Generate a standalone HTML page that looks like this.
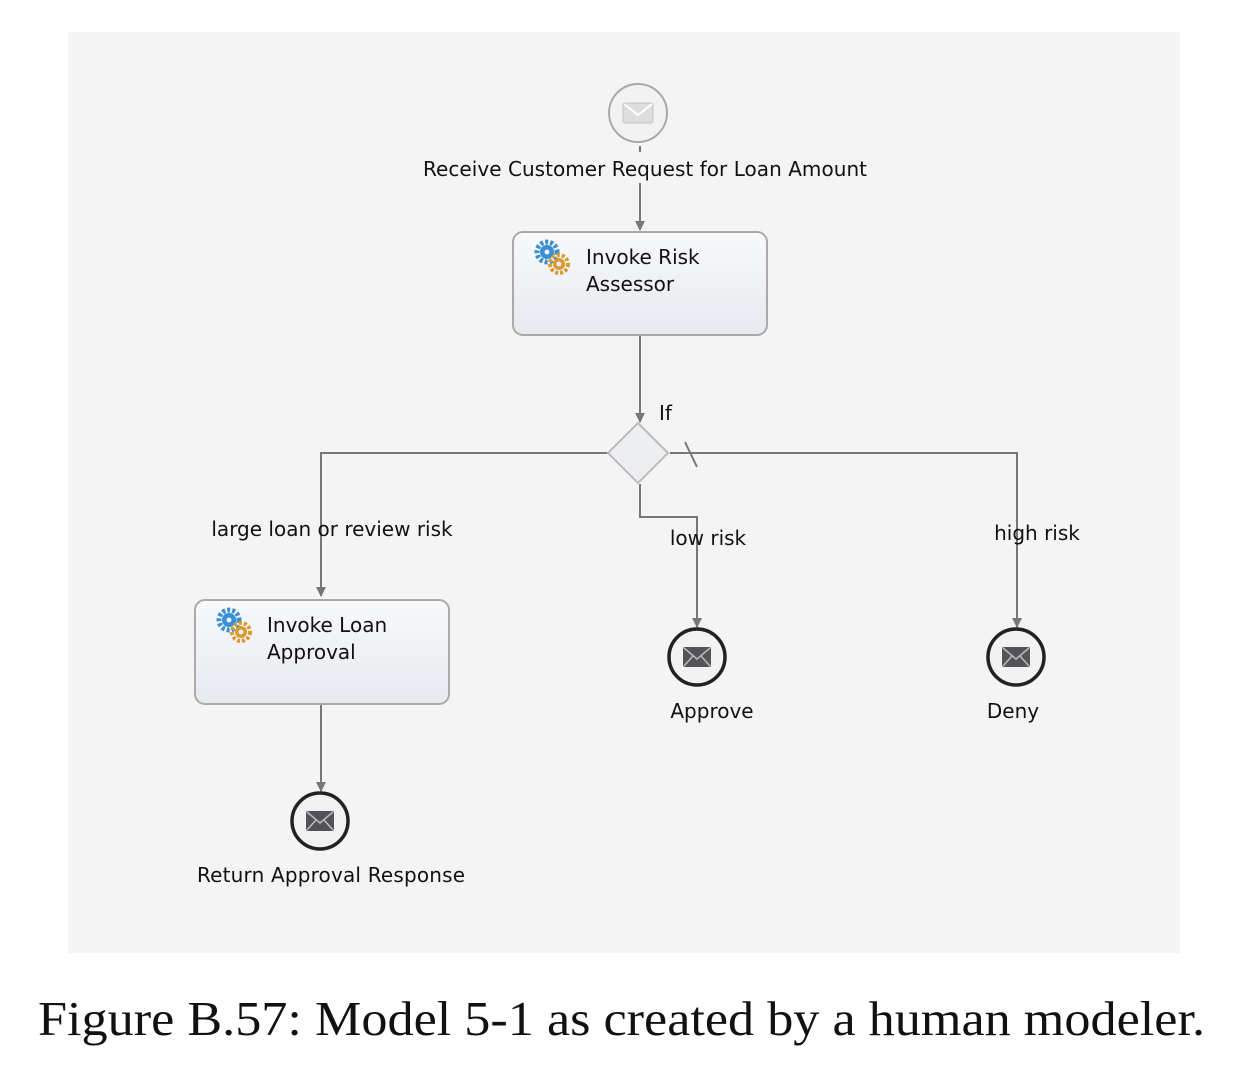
<!DOCTYPE html>
<html><head><style>body{margin:0;background:#fff}svg{display:block}</style></head><body>
<svg width="1240" height="1074" xmlns="http://www.w3.org/2000/svg">
<defs>
<marker id="a" markerWidth="10" markerHeight="10" refX="9" refY="5" orient="auto" markerUnits="userSpaceOnUse"><path d="M0,0 L10,5 L0,10z" fill="#777"/></marker>
<linearGradient id="tg" x1="0" y1="0" x2="0" y2="1"><stop offset="0" stop-color="#f8f9fb"/><stop offset="1" stop-color="#e6e9ee"/></linearGradient>
<g id="env"><rect x="-14" y="-10" width="28" height="20" rx="2" fill="#55535a"/><path d="M-13,-9 L0,2 L13,-9 M-13,9 L-4,-1 M13,9 L4,-1" stroke="#bbb" stroke-width="1.5" fill="none"/></g>
<g id="gear"><circle cx="-5" cy="-6" r="10" fill="none" stroke="#3a8fd0" stroke-width="5" stroke-dasharray="3 2"/><circle cx="-5" cy="-6" r="7" fill="#3a8fd0"/><circle cx="-5" cy="-6" r="2.5" fill="#eef"/><circle cx="7" cy="6" r="9" fill="none" stroke="#d99a2a" stroke-width="4" stroke-dasharray="3 2"/><circle cx="7" cy="6" r="6" fill="#d99a2a"/><circle cx="7" cy="6" r="2.5" fill="#eef"/></g>
</defs>
<rect x="68" y="32" width="1112" height="921" fill="#f4f4f4"/>
<g font-family="'DejaVu Sans','Liberation Sans',sans-serif" font-size="20" fill="#111">
<circle cx="638" cy="113" r="29" fill="#f2f2f2" stroke="#aaa" stroke-width="2"/>
<g transform="translate(638,113)"><rect x="-15" y="-10" width="30" height="20" rx="2" fill="#ddd" stroke="#c4c4c4"/><path d="M-14,-9 L0,2 L14,-9" stroke="#fff" stroke-width="2" fill="none"/></g>
<text x="645" y="176" text-anchor="middle" textLength="444">Receive Customer Request for Loan Amount</text>
<g stroke="#777" stroke-width="2" fill="none">
<line x1="640" y1="146" x2="640" y2="152"/>
<line x1="640" y1="183" x2="640" y2="230" marker-end="url(#a)"/>
<line x1="640" y1="336" x2="640" y2="422" marker-end="url(#a)"/>
<polyline points="608,453 321,453 321,596" marker-end="url(#a)"/>
<polyline points="670,453 1017,453 1017,627" marker-end="url(#a)"/>
<line x1="685" y1="442" x2="697" y2="467"/>
<polyline points="640,484 640,517 697,517 697,627" marker-end="url(#a)"/>
<line x1="321" y1="705" x2="321" y2="791" marker-end="url(#a)"/>
</g>
<rect x="513" y="232" width="254" height="103" rx="10" fill="url(#tg)" stroke="#aaa" stroke-width="2"/>
<use href="#gear" x="552" y="258"/>
<text x="586" y="264">Invoke Risk</text><text x="586" y="291">Assessor</text>
<text x="659" y="420">If</text>
<polygon points="638,423 668,453 638,483 608,453" fill="#eceef2" stroke="#bbb" stroke-width="2"/>
<text x="332" y="536" text-anchor="middle">large loan or review risk</text>
<text x="708" y="545" text-anchor="middle">low risk</text>
<text x="1037" y="540" text-anchor="middle">high risk</text>
<rect x="195" y="600" width="254" height="104" rx="10" fill="url(#tg)" stroke="#aaa" stroke-width="2"/>
<use href="#gear" x="234" y="626"/>
<text x="267" y="632">Invoke Loan</text><text x="267" y="659">Approval</text>
<circle cx="697" cy="657" r="28" fill="#f2f2f2" stroke="#222" stroke-width="3.5"/><use href="#env" x="697" y="657"/>
<circle cx="1016" cy="657" r="28" fill="#f2f2f2" stroke="#222" stroke-width="3.5"/><use href="#env" x="1016" y="657"/>
<circle cx="320" cy="821" r="28" fill="#f2f2f2" stroke="#222" stroke-width="3.5"/><use href="#env" x="320" y="821"/>
<text x="712" y="718" text-anchor="middle">Approve</text>
<text x="1013" y="718" text-anchor="middle">Deny</text>
<text x="331" y="882" text-anchor="middle" textLength="268">Return Approval Response</text>
</g>
<text x="38" y="1035" font-family="'Liberation Serif',serif" font-size="49" fill="#111" textLength="1167" lengthAdjust="spacingAndGlyphs">Figure B.57: Model 5-1 as created by a human modeler.</text>
</svg>
</body></html>
